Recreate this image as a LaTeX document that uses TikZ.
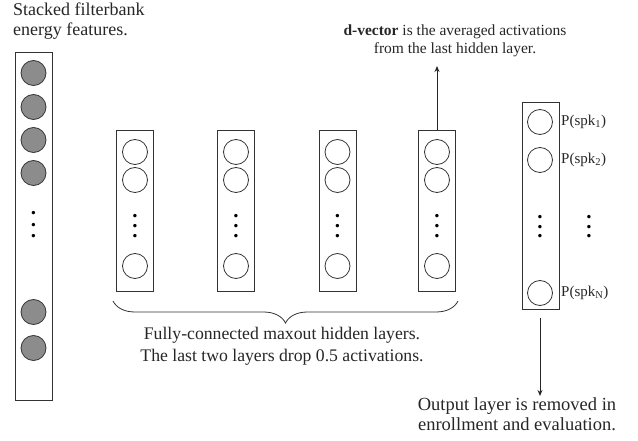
\documentclass[tikz,border=0pt]{standalone}
\usepackage{fontspec}
\setmainfont{Liberation Serif}
\usetikzlibrary{decorations.pathreplacing,arrows.meta}
\begin{document}
\begin{tikzpicture}[x=1pt,y=-1pt,
  layer/.style={draw=black!80,line width=0.9pt,minimum width=37pt,inner sep=0pt},
  unit/.style={circle,draw=black!80,line width=0.8pt,minimum size=25pt,inner sep=0pt},
  inunit/.style={unit,fill=black!45},
  dotnode/.style={font=\bfseries\fontsize{21}{21}\selectfont,inner sep=0pt,anchor=base},
  txt/.style={text=black!85,inner sep=0pt,align=center},
  arr/.style={draw=black!85,line width=0.9pt,-{Stealth[length=6pt,width=5pt]}}]
\useasboundingbox (0,0) rectangle (638,441);
% input layer
\node[layer,minimum height=348pt] (in) at (33.5,226) {};
\foreach \y [count=\i] in {73,107,140,173,312,348}
  \node[inunit] (in\i) at (33.5,\y) {};
\foreach \y [count=\k] in {213,225,236}
  \node[dotnode] (ind\k) at (33.5,\y+1.5) {.};
\node[txt,align=left,anchor=north west,font=\fontsize{18}{20}\selectfont] (intxt) at (13,3) {Stacked filterbank\\energy features.};
% hidden layers
\foreach \x [count=\j] in {135,236,337.5,437}{
  \node[layer,minimum height=161pt] (h\j) at (\x,210.5) {};
  \node[unit] (h\j a) at (\x,152) {};
  \node[unit] (h\j b) at (\x,180) {};
  \node[unit] (h\j c) at (\x,266) {};
  \foreach \y [count=\k] in {216,226,236}
    \node[dotnode] (h\j d\k) at (\x,\y+1.5) {.};
}
\coordinate (bl) at (113,301);
\coordinate (br) at (458,301);
\draw[draw=black!80,line width=0.8pt,decorate,decoration={brace,mirror,amplitude=22pt}] (bl) -- (br);
\node[txt,font=\fontsize{17.7}{22}\selectfont] (htxt) at (282,346) {Fully-connected maxout hidden layers.\\The last two layers drop 0.5 activations.};
% d-vector
\node[txt,font=\fontsize{15.5}{18}\selectfont] (dtxt) at (455,41) {\textbf{d-vector} is the averaged activations\\from the last hidden layer.};
\coordinate (dtip) at (437,66);
\draw[arr] (h4.north) -- (dtip);
% output layer
\node[layer,minimum height=207pt] (out) at (540.5,205.5) {};
\node[unit] (o1) at (540,122) {};
\node[unit] (o2) at (540,160) {};
\node[unit] (o3) at (540,293) {};
\foreach \y [count=\k] in {217,227,236}{
  \node[dotnode] (od\k) at (540,\y+1.5) {.};
  \node[dotnode] (oe\k) at (589,\y+1.5) {.};
}
\node[txt,anchor=west,font=\fontsize{15}{18}\selectfont] (p1) at (561,122) {P(spk\textsubscript{1})};
\node[txt,anchor=west,font=\fontsize{15}{18}\selectfont] (p2) at (561,160) {P(spk\textsubscript{2})};
\node[txt,anchor=west,font=\fontsize{15}{18}\selectfont] (p3) at (561,293) {P(spk\textsubscript{N})};
\node[txt,font=\fontsize{18.5}{19.5}\selectfont] (otxt) at (517,414) {Output layer is removed in\\enrollment and evaluation.};
\coordinate (otip) at (540,396);
\draw[arr,shorten <=9pt] (out.south -| o3) -- (otip);
\end{tikzpicture}
\end{document}
